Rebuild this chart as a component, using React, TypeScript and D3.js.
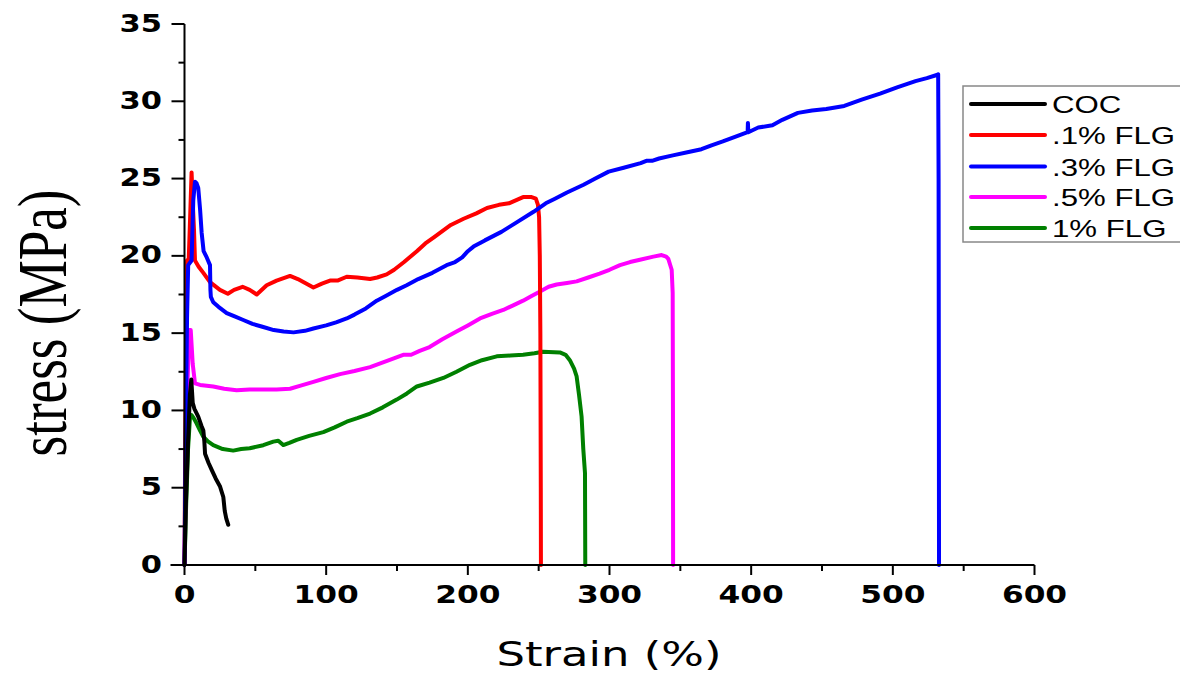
import React from "react";
import * as d3 from "d3";

type Pt = [number, number];

const cocData: Pt[] = [[0,0],[1,4],[2.5,8],[3.8,11],[4.8,12.0],[5.8,10.5],[7,10.1],[9.7,9.6],[12,9.0],[13.3,8.7],[14,8.0],[14.5,7.2],[17,6.6],[19.2,6.15],[22,5.6],[25,5.1],[27.4,4.4],[28.4,3.5],[29.5,3.0],[30.9,2.6]];

const flg01Data: Pt[] = [[0,0],[0.5,8],[1.2,16],[1.8,19.7],[3,19.8],[3.8,22],[5,25.4],[5.8,23.5],[6.7,21.7],[7.4,19.7],[10,19.3],[13.3,18.9],[18,18.3],[25,17.8],[30.6,17.55],[35,17.8],[41,18.0],[46,17.8],[51,17.5],[58,18.1],[65,18.4],[74.5,18.7],[80,18.5],[91,17.95],[97,18.2],[102.7,18.4],[108,18.4],[114.5,18.65],[122,18.6],[131,18.5],[136,18.6],[142.7,18.8],[148,19.1],[155,19.6],[164,20.3],[170,20.8],[176,21.2],[188,22.0],[197,22.4],[206,22.75],[213.5,23.1],[222,23.3],[229,23.4],[239,23.8],[245,23.8],[248,23.7],[249.5,23.3],[250.3,22.5],[250.8,20],[251.2,15],[251.5,5],[251.6,0]];

const flg03Data: Pt[] = [[0,0],[0.8,8],[1.8,16],[2.6,19.4],[5,19.7],[6.2,23.6],[7.4,24.8],[8.5,24.7],[9.7,24.4],[11,23],[12.1,21.5],[13.5,20.3],[15.7,19.9],[18,19.4],[18.3,17.8],[18.6,17.35],[20.3,17.0],[24,16.7],[29.8,16.3],[35,16.1],[41.5,15.85],[48,15.6],[55.6,15.4],[63,15.2],[70,15.1],[77,15.05],[85,15.15],[91,15.3],[100,15.5],[107,15.7],[114.5,15.95],[120,16.2],[128,16.6],[135.7,17.1],[142,17.4],[150,17.8],[156.8,18.1],[165,18.5],[175,18.9],[185,19.4],[191,19.6],[196,19.9],[200,20.3],[204,20.6],[212,21.0],[223.7,21.55],[235,22.2],[246.4,22.85],[255,23.4],[261.5,23.7],[270,24.1],[281.7,24.6],[290,25.0],[299.4,25.45],[310,25.7],[322,26.0],[326,26.15],[330,26.15],[335,26.3],[344.7,26.5],[355,26.7],[364.9,26.9],[372,27.15],[380,27.4],[390,27.75],[397.5,28.0],[397.7,28.6],[398,28.0],[405,28.3],[415,28.45],[422,28.8],[433,29.25],[443,29.4],[453,29.5],[465.7,29.7],[478,30.1],[491,30.5],[503,30.9],[516,31.3],[524,31.5],[531,31.7],[532,31.75],[532.3,25],[532.5,10],[532.6,0]];

const flg05Data: Pt[] = [[0,0],[1,6],[2.2,12],[3.4,15.2],[4.4,15.2],[5.8,13.0],[7.4,11.75],[11,11.65],[20.3,11.55],[28,11.4],[36.8,11.3],[46,11.35],[55.6,11.35],[65,11.35],[74.5,11.4],[82,11.6],[91,11.85],[100,12.1],[109.8,12.35],[120,12.55],[131,12.8],[143,13.2],[154.4,13.6],[160,13.6],[166,13.85],[173,14.1],[182,14.6],[192,15.1],[200,15.5],[208.6,15.95],[217,16.25],[225,16.5],[232,16.8],[239,17.1],[245,17.4],[251,17.7],[257,18.0],[262.7,18.15],[270,18.25],[276.8,18.35],[285,18.6],[293,18.85],[300,19.1],[307.4,19.4],[314.5,19.6],[321.5,19.75],[331,19.95],[336.8,20.05],[340,19.95],[341.5,19.8],[343.9,19.1],[344.6,17.6],[344.8,10],[344.9,0]];

const flg1Data: Pt[] = [[0,0],[1.2,4],[2.5,7.5],[3.9,9.6],[5,9.7],[6.5,9.5],[8.6,9.15],[11,8.7],[13.3,8.3],[16.5,8.0],[20.3,7.75],[27,7.5],[34.4,7.4],[40,7.5],[46,7.55],[55.6,7.75],[62.7,7.98],[66.2,8.04],[69.7,7.76],[74,7.9],[79.2,8.1],[88,8.35],[98,8.6],[106,8.9],[114.5,9.27],[122,9.5],[131,9.8],[140,10.2],[149.8,10.7],[157,11.1],[164,11.55],[173,11.8],[182.7,12.1],[192,12.5],[201.5,12.95],[210,13.25],[220.4,13.5],[230,13.55],[239,13.6],[247,13.7],[253,13.8],[265,13.75],[269,13.6],[272,13.25],[275,12.7],[276.8,12.2],[278.5,11],[280.3,9.6],[281.5,7.5],[282.7,5.95],[282.9,0]];

const seriesNames = ["COC", ".1% FLG", ".3% FLG", ".5% FLG", "1% FLG"];
const seriesColors = ["#000000", "#ff0000", "#0000ff", "#ff00ff", "#008000"];
const seriesData = [cocData, flg01Data, flg03Data, flg05Data, flg1Data];
const drawOrder = [4, 3, 1, 2, 0];

const xMajorTicks = [0, 100, 200, 300, 400, 500, 600];
const xMinorTicks = [50, 150, 250, 350, 450, 550];
const yMajorTicks = [0, 5, 10, 15, 20, 25, 30, 35];
const yMinorTicks = [2.5, 7.5, 12.5, 17.5, 22.5, 27.5, 32.5];

const xTitle = "Strain (%)";
const yTitle = "stress (MPa)";

export default function App() {
  const x = d3.scaleLinear().domain([0, 600]).range([184.5, 1034.5]);
  const y = d3.scaleLinear().domain([0, 35]).range([565, 24]);
  const line = d3.line<Pt>().x(d => x(d[0])).y(d => y(d[1]));
  const tickFont = "'DejaVu Sans', Verdana, sans-serif";
  const legendRows = [104, 135, 166.5, 197, 228];

  return (
    <svg width={1180} height={677} style={{ position: "absolute", left: 0, top: 0, background: "#fff" }}>
      <rect x={0} y={0} width={1180} height={677} fill="#fff" />
      {/* curves */}
      {drawOrder.map(i => (
        <path key={i} d={line(seriesData[i]) || ""} fill="none" stroke={seriesColors[i]} strokeWidth={4} strokeLinejoin="round" strokeLinecap="round" />
      ))}
      {/* axes */}
      <line x1={x(0)} x2={x(0)} y1={y(35)} y2={y(0)} stroke="#000" strokeWidth={2} />
      <line x1={x(0) - 14} x2={x(600)} y1={y(0)} y2={y(0)} stroke="#000" strokeWidth={2} />
      {yMajorTicks.map(v => (
        <g key={"ym" + v}>
          <line x1={x(0) - 13} x2={x(0)} y1={y(v)} y2={y(v)} stroke="#000" strokeWidth={2} />
          <text transform={`translate(162, ${y(v) - 1}) scale(1.22,1)`} textAnchor="end" dominantBaseline="central" fontFamily={tickFont} fontWeight="bold" fontSize={25} fill="#000">{v}</text>
        </g>
      ))}
      {yMinorTicks.map(v => (
        <line key={"yn" + v} x1={x(0) - 6} x2={x(0)} y1={y(v)} y2={y(v)} stroke="#000" strokeWidth={2} />
      ))}
      {xMajorTicks.map(v => (
        <g key={"xm" + v}>
          <line x1={x(v)} x2={x(v)} y1={y(0)} y2={y(0) + 10} stroke="#000" strokeWidth={2} />
          <text transform={`translate(${x(v)}, ${y(0) + 30}) scale(1.25,1)`} textAnchor="middle" dominantBaseline="central" fontFamily={tickFont} fontWeight="bold" fontSize={25} fill="#000">{v}</text>
        </g>
      ))}
      {xMinorTicks.map(v => (
        <line key={"xn" + v} x1={x(v)} x2={x(v)} y1={y(0)} y2={y(0) + 6} stroke="#000" strokeWidth={2} />
      ))}
      {/* titles */}
      <text x={609} y={666} textAnchor="middle" fontFamily="'DejaVu Sans', Verdana, sans-serif" fontSize={34} textLength={225} lengthAdjust="spacingAndGlyphs" fill="#000">{xTitle}</text>
      <text transform="translate(66, 323) rotate(-90) scale(1,1.3)" textAnchor="middle" fontFamily="'Liberation Serif', 'Times New Roman', serif" fontSize={53} textLength={267} lengthAdjust="spacingAndGlyphs" fill="#000">{yTitle}</text>
      {/* legend */}
      <rect x={963} y={86} width={240} height={156} fill="#fff" stroke="#888" strokeWidth={1.5} />
      {seriesNames.map((name, i) => (
        <g key={name}>
          <line x1={971} x2={1045} y1={legendRows[i]} y2={legendRows[i]} stroke={seriesColors[i]} strokeWidth={4} strokeLinecap="round" />
          <text transform={`translate(1052, ${legendRows[i] + 1}) scale(1.3,1)`} dominantBaseline="central" fontFamily="'Liberation Sans', Arial, sans-serif" fontSize={24} fill="#000">{name}</text>
        </g>
      ))}
    </svg>
  );
}
